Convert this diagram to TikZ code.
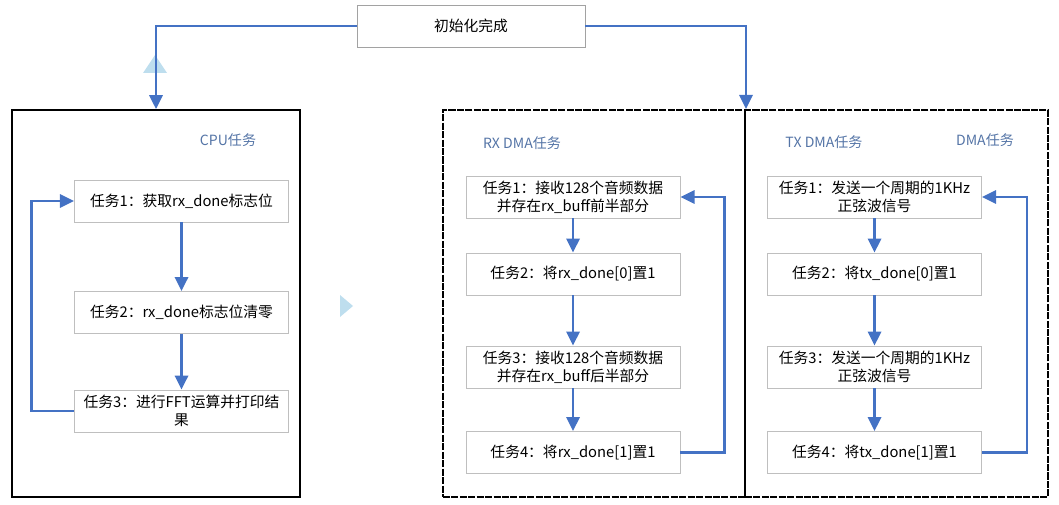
\documentclass[tikz,border=0pt]{standalone}
\usepackage{fontspec}
\setmainfont{Noto Sans CJK SC}
\usepackage{tikz}
\usetikzlibrary{arrows.meta}

\definecolor{linkblue}{RGB}{68,114,196}
\definecolor{titleblue}{RGB}{84,116,166}
\definecolor{boxgrey}{RGB}{191,191,191}
\definecolor{ghostblue}{RGB}{190,222,238}

\begin{document}
\begin{tikzpicture}[x=0.025cm,y=-0.025cm,
	task/.style={draw=boxgrey,fill=white,line width=0.6pt,minimum width=5.35cm,minimum height=1.05cm,
		inner sep=1pt,align=center,font=\fontsize{10.5}{13}\selectfont},
	frame/.style={draw=black,minimum height=9.675cm,inner sep=0pt},
	dmaframe/.style={frame,line width=1.4pt,dash pattern=on 5pt off 1pt},
	title/.style={text=titleblue,font=\fontsize{10}{12}\selectfont},
	link/.style={draw=linkblue,line width=1.6pt,-{Triangle[length=10pt,width=9.5pt]}},
	loop/.style={link,rounded corners=0pt}]
	\useasboundingbox (0,0) rectangle (1059,505);

	% start
	\node[task,draw=boxgrey!85!black,minimum width=5.7cm] (init) at (471,26) {初始化完成};

	% frames
	\node[frame,line width=1.2pt,minimum width=7.2cm] (cpu) at (156,303.5) {};
	\node[dmaframe,minimum width=7.55cm] (rx) at (594,303.5) {};
	\node[dmaframe,minimum width=7.575cm] (tx) at (896.5,303.5) {};

	\node[title] (cputitle) at (228,140) {CPU任务};
	\node[title] (rxtitle) at (522,143) {RX DMA任务};
	\node[title] (txtitle) at (824,142) {TX DMA任务};
	\node[title] (dmatitle) at (985,140) {DMA任务};

	% faint marks
	\fill[ghostblue] (143,73) -- (155,55) -- (167,73) -- cycle;
	\fill[ghostblue] (340,295) -- (353,306) -- (340,317) -- cycle;

	% cpu tasks
	\node[task] (c1) at (181.5,201) {任务1：获取rx\_done标志位};
	\node[task] (c2) at (181.5,312.5) {任务2：rx\_done标志位清零};
	\node[task] (c3) at (181.5,411) {任务3：进行FFT运算并打印结\\果};

	% rx tasks
	\node[task] (r1) at (573,197) {任务1：接收128个音频数据\\并存在rx\_buff前半部分};
	\node[task] (r2) at (573,274) {任务2：将rx\_done[0]置1};
	\node[task] (r3) at (573,367) {任务3：接收128个音频数据\\并存在rx\_buff后半部分};
	\node[task] (r4) at (573,452.5) {任务4：将rx\_done[1]置1};

	% tx tasks
	\node[task] (t1) at (874.5,197) {任务1：发送一个周期的1KHz\\正弦波信号};
	\node[task] (t2) at (874.5,274) {任务2：将tx\_done[0]置1};
	\node[task] (t3) at (874.5,367) {任务3：发送一个周期的1KHz\\正弦波信号};
	\node[task] (t4) at (874.5,452.5) {任务4：将tx\_done[1]置1};

	\begin{scope}
	\draw[link] (init.west) -| (cpu.north);
	\draw[link] (init.east) -| (rx.north east);
	\draw[link] (c1) -- (c2);
	\draw[link] (c2) -- (c3);
	\draw[link] (r1) -- (r2);
	\draw[link] (r2) -- (r3);
	\draw[link] (r3) -- (r4);
	\draw[link] (t1) -- (t2);
	\draw[link] (t2) -- (t3);
	\draw[link] (t3) -- (t4);
	\end{scope}

	\begin{scope}
	\draw[loop] (c3.west) -- ++(-42.5,0) |- (c1.west);
	\draw[loop] (r4.east) -- ++(44,0) |- (r1.east);
	\draw[loop] (t4.east) -- ++(45,0) |- (t1.east);
	\end{scope}
\end{tikzpicture}
\end{document}
